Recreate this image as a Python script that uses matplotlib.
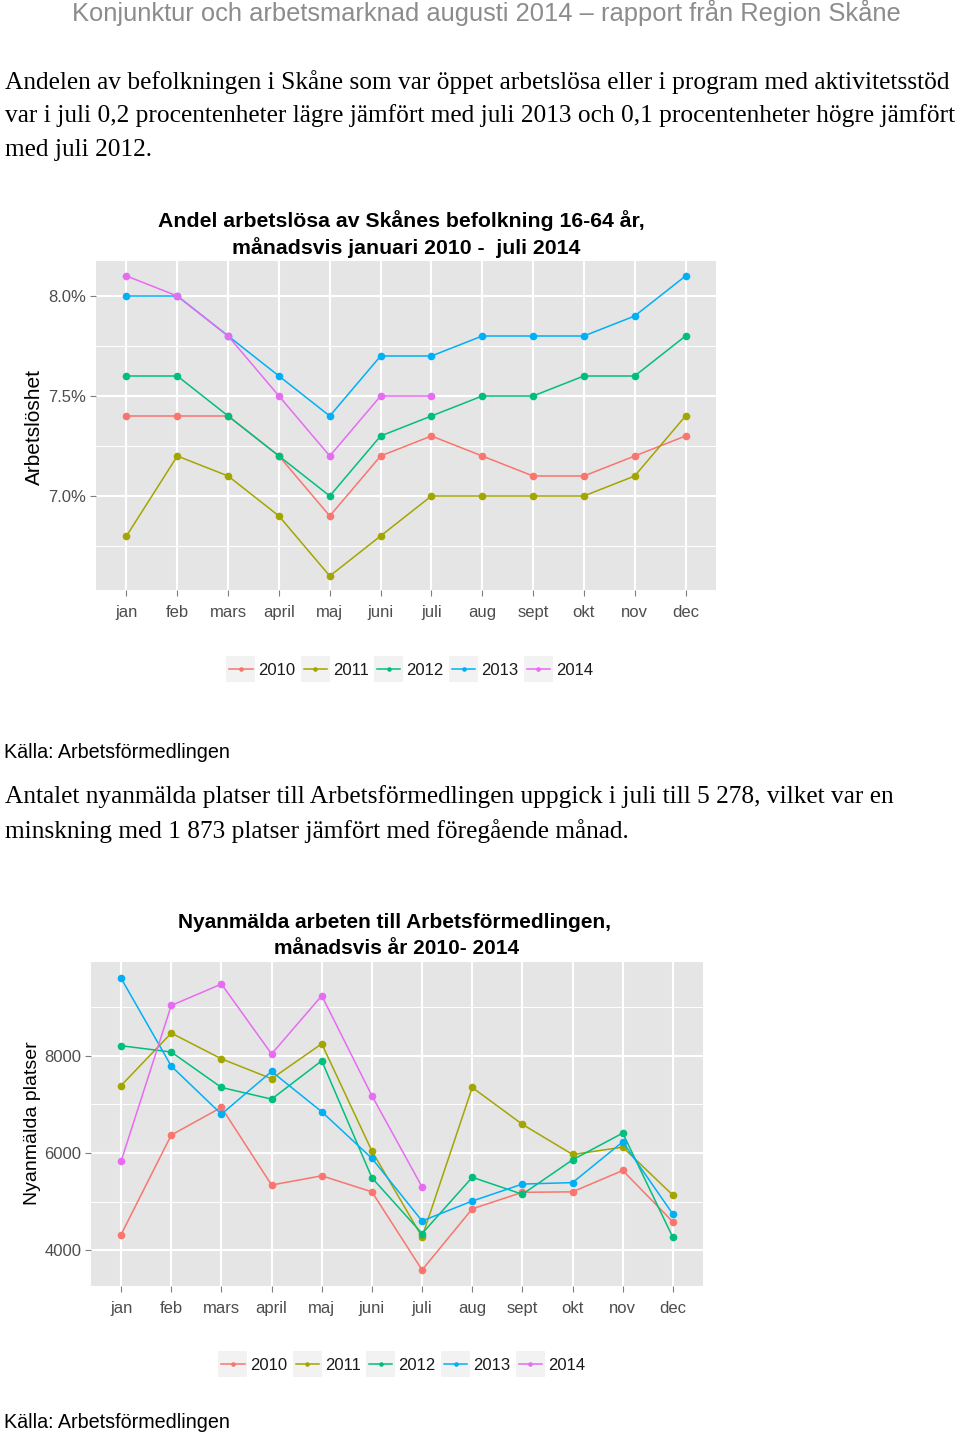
import matplotlib
matplotlib.use("Agg")
import matplotlib.pyplot as plt
import numpy as np
from matplotlib.legend_handler import HandlerLine2D
from matplotlib.patches import Rectangle
from matplotlib.ticker import FuncFormatter, FixedLocator

# ---------------- data ----------------
months = ["jan", "feb", "mars", "april", "maj", "juni", "juli", "aug", "sept", "okt", "nov", "dec"]
years = ["2010", "2011", "2012", "2013", "2014"]
colors = ["#F8766D", "#A3A500", "#00BF7D", "#00B0F6", "#E76BF3"]

# Andel arbetslösa (%), månadsvis
unemp_2010 = [7.4, 7.4, 7.4, 7.2, 6.9, 7.2, 7.3, 7.2, 7.1, 7.1, 7.2, 7.3]
unemp_2011 = [6.8, 7.2, 7.1, 6.9, 6.6, 6.8, 7.0, 7.0, 7.0, 7.0, 7.1, 7.4]
unemp_2012 = [7.6, 7.6, 7.4, 7.2, 7.0, 7.3, 7.4, 7.5, 7.5, 7.6, 7.6, 7.8]
unemp_2013 = [8.0, 8.0, 7.8, 7.6, 7.4, 7.7, 7.7, 7.8, 7.8, 7.8, 7.9, 8.1]
unemp_2014 = [8.1, 8.0, 7.8, 7.5, 7.2, 7.5, 7.5]
unemp_ticks = [7.0, 7.5, 8.0]

# Nyanmälda platser, månadsvis
jobs_2010 = [4320, 6370, 6940, 5340, 5530, 5200, 3590, 4850, 5190, 5200, 5640, 4580]
jobs_2011 = [7390, 8470, 7940, 7530, 8250, 6040, 4270, 7350, 6590, 5970, 6120, 5130]
jobs_2012 = [8210, 8080, 7350, 7110, 7900, 5490, 4340, 5500, 5150, 5860, 6410, 4260]
jobs_2013 = [9600, 7790, 6800, 7680, 6850, 5890, 4600, 5010, 5360, 5390, 6230, 4740]
jobs_2014 = [5830, 9040, 9480, 8040, 9240, 7180, 5300]
jobs_ticks = [4000, 6000, 8000]

# ---------------- figure ----------------
W, H = 960, 1438
fig = plt.figure(figsize=(W / 100, H / 100), dpi=100)
fig.patch.set_facecolor("white")

SANS = ["Liberation Sans", "DejaVu Sans"]
SERIF = ["Liberation Serif", "DejaVu Serif"]


def fx(x):
    return x / W


def fy(y):
    return 1 - y / H


def px_axes(l, t, r, b):
    return fig.add_axes([l / W, 1 - b / H, (r - l) / W, (b - t) / H])


class KeyHandler(HandlerLine2D):
    def create_artists(self, legend, orig_handle, xdescent, ydescent,
                       width, height, fontsize, trans):
        rect = Rectangle((-xdescent - 2, -ydescent - 4), width + 4, height + 8,
                         facecolor="#F2F2F2", edgecolor="none", transform=trans)
        arts = super().create_artists(legend, orig_handle, xdescent, ydescent,
                                      width, height, fontsize, trans)
        return [rect] + list(arts)


def style_axes(ax, ylim, yticks, yminor, fmt):
    ax.set_facecolor("#E5E5E5")
    for s in ax.spines.values():
        s.set_visible(False)
    ax.set_xlim(0.4, 12.6)
    ax.set_ylim(*ylim)
    ax.set_xticks(np.arange(1, 13))
    ax.set_xticklabels(months)
    ax.yaxis.set_major_locator(FixedLocator(yticks))
    ax.yaxis.set_minor_locator(FixedLocator(yminor))
    ax.yaxis.set_major_formatter(FuncFormatter(fmt))
    ax.grid(which="major", color="white", lw=1.5)
    ax.grid(which="minor", axis="y", color="white", lw=0.7)
    ax.set_axisbelow(True)
    ax.tick_params(which="major", length=4, width=0.8, color="#7F7F7F",
                   labelcolor="#4D4D4D", labelsize=12, pad=3)
    ax.tick_params(axis="x", which="major", pad=7)
    ax.tick_params(which="minor", length=0)
    for lab in ax.get_xticklabels() + ax.get_yticklabels():
        lab.set_family(SANS)


def draw_series(ax, series):
    handles = []
    for name, vals, c in zip(years, series, colors):
        x = np.arange(1, len(vals) + 1)
        h, = ax.plot(x, vals, color=c, lw=1.1, marker="o", ms=5.5,
                     markeredgewidth=0, label=name)
        handles.append(h)
    return handles


def add_legend(handles, cx, cy):
    leg = fig.legend(handles=handles, labels=years, loc="center",
                     bbox_to_anchor=(fx(cx), fy(cy)), ncol=5, frameon=False,
                     prop={"family": SANS, "size": 12}, handlelength=1.4,
                     handleheight=1.0, handletextpad=0.35, columnspacing=0.5,
                     markerscale=0.6, borderpad=0,
                     handler_map={h: KeyHandler() for h in handles})
    for t in leg.get_texts():
        t.set_color("#1A1A1A")
    return leg


# ---------------- page texts ----------------
fig.text(fx(486), fy(13), "Konjunktur och arbetsmarknad augusti 2014 \u2013 rapport från Region Skåne",
         ha="center", va="center", color="#8C8C8C", fontsize=18.4, family=SANS)

para1 = ["Andelen av befolkningen i Skåne som var öppet arbetslösa eller i program med aktivitetsstöd",
         "var i juli 0,2 procentenheter lägre jämfört med juli 2013 och 0,1 procentenheter högre jämfört",
         "med juli 2012."]
for i, line in enumerate(para1):
    fig.text(fx(5), fy(82 + 34 * i), line, ha="left", va="center",
             color="black", fontsize=18.3, family=SERIF)

para2 = ["Antalet nyanmälda platser till Arbetsförmedlingen uppgick i juli till 5 278, vilket var en",
         "minskning med 1 873 platser jämfört med föregående månad."]
for i, line in enumerate(para2):
    fig.text(fx(5), fy(797 + 34 * i), line, ha="left", va="center",
             color="black", fontsize=18.3, family=SERIF)

for y in (753, 1423):
    fig.text(fx(4), fy(y), "Källa: Arbetsförmedlingen", ha="left", va="center",
             color="black", fontsize=14.25, family=SANS)

# ---------------- chart 1 ----------------
ax1 = px_axes(96, 261, 716, 590)
h1 = draw_series(ax1, [unemp_2010, unemp_2011, unemp_2012, unemp_2013, unemp_2014])
style_axes(ax1, (6.53, 8.175), unemp_ticks, [6.75, 7.25, 7.75],
           lambda v, p: f"{v:.1f}%")
fig.text(fx(401), fy(221), "Andel arbetslösa av Skånes befolkning 16-64 år,",
         ha="center", va="center", fontsize=15.3, fontweight="bold", family=SANS)
fig.text(fx(406), fy(248), "månadsvis januari 2010 -  juli 2014",
         ha="center", va="center", fontsize=15.3, fontweight="bold", family=SANS)
fig.text(fx(34), fy(427), "Arbetslöshet", rotation=90, ha="center", va="center",
         fontsize=15, family=SANS, color="black")
add_legend(h1, 411, 670)

# ---------------- chart 2 ----------------
ax2 = px_axes(91, 962, 703, 1286)
h2 = draw_series(ax2, [jobs_2010, jobs_2011, jobs_2012, jobs_2013, jobs_2014])
style_axes(ax2, (3260, 9935), jobs_ticks, [5000, 7000, 9000],
           lambda v, p: f"{int(v)}")
fig.text(fx(395), fy(922), "Nyanmälda arbeten till Arbetsförmedlingen,",
         ha="center", va="center", fontsize=15, fontweight="bold", family=SANS)
fig.text(fx(397), fy(949), "månadsvis år 2010- 2014",
         ha="center", va="center", fontsize=15, fontweight="bold", family=SANS)
fig.text(fx(33), fy(1123), "Nyanmälda platser", rotation=90, ha="center", va="center",
         fontsize=14, family=SANS, color="black")
add_legend(h2, 403, 1365)

fig.savefig("out.png", dpi=100, facecolor="white")
